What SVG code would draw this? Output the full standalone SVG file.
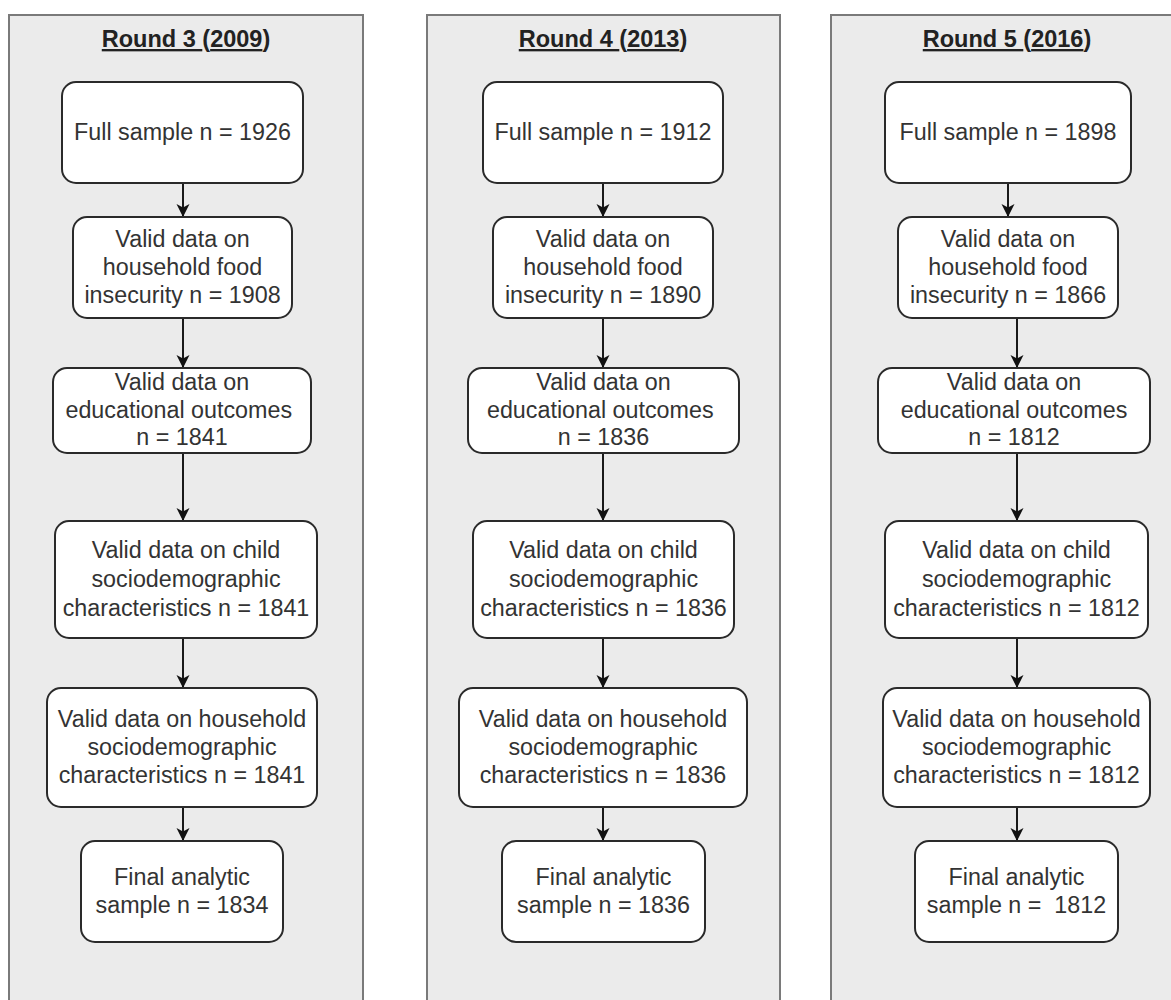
<svg xmlns="http://www.w3.org/2000/svg" width="1171" height="1000" viewBox="0 0 1171 1000">
<defs>
<marker id="ah" markerWidth="14" markerHeight="14" refX="13" refY="7" orient="auto" markerUnits="userSpaceOnUse">
<path d="M0,0.5 L13,7 L0,13.5 L3.5,7 Z" fill="#111"/>
</marker>
<style>
.panel{fill:#ebebeb;stroke:#7a7a7a;stroke-width:2}
.node{fill:#fff;stroke:#2a2a2a;stroke-width:2}
.t{font-family:"Liberation Sans",Arial,sans-serif;font-size:23.3px;fill:#333;text-anchor:middle;white-space:pre}
.title{font-family:"Liberation Sans",Arial,sans-serif;font-size:23.5px;font-weight:bold;fill:#222;text-anchor:middle}
.u{text-decoration:underline}
.conn line{stroke:#1a1a1a;stroke-width:2;marker-end:url(#ah)}
</style>
</defs>
<g id="panel-r3">
<rect class="panel" x="9" y="15" width="354" height="1000"/>
<text class="title" x="186" y="47"><tspan class="u">Round 3 </tspan>(<tspan class="u">2009</tspan>)</text>
</g>
<g id="panel-r4">
<rect class="panel" x="427" y="15" width="353" height="1000"/>
<text class="title" x="603" y="47"><tspan class="u">Round 4 </tspan>(<tspan class="u">2013</tspan>)</text>
</g>
<g id="panel-r5">
<rect class="panel" x="831" y="15" width="353" height="1000"/>
<text class="title" x="1007" y="47"><tspan class="u">Round 5 </tspan>(<tspan class="u">2016</tspan>)</text>
</g>

<g class="conn" id="connectors">
<line x1="183" y1="183" x2="183" y2="217"/>
<line x1="183" y1="318" x2="183" y2="368"/>
<line x1="183" y1="453" x2="183" y2="521"/>
<line x1="183" y1="638" x2="183" y2="688"/>
<line x1="183" y1="807" x2="183" y2="841"/>
<line x1="603" y1="183" x2="603" y2="217"/>
<line x1="603" y1="318" x2="603" y2="368"/>
<line x1="603" y1="453" x2="603" y2="521"/>
<line x1="603" y1="638" x2="603" y2="688"/>
<line x1="603" y1="807" x2="603" y2="841"/>
<line x1="1008" y1="183" x2="1008" y2="217"/>
<line x1="1017" y1="318" x2="1017" y2="368"/>
<line x1="1017" y1="453" x2="1017" y2="521"/>
<line x1="1017" y1="638" x2="1017" y2="688"/>
<line x1="1017" y1="807" x2="1017" y2="841"/>
</g>

<g id="r3-full"><rect class="node" x="62" y="82" width="241" height="101" rx="14"/><text class="t" x="182.5" y="140">Full sample n = 1926</text></g>
<g id="r3-food"><rect class="node" x="73" y="217" width="219" height="101" rx="14"/><text class="t" x="182.5" y="247">Valid data on</text><text class="t" x="182.5" y="275">household food</text><text class="t" x="182.5" y="303">insecurity n = 1908</text></g>
<g id="r3-edu"><rect class="node" x="53" y="368" width="258" height="85" rx="14"/><text class="t" x="182" y="390">Valid data on</text><text class="t" x="182" y="418">educational outcomes </text><text class="t" x="182" y="445">n = 1841</text></g>
<g id="r3-child"><rect class="node" x="55" y="521" width="262" height="117" rx="14"/><text class="t" x="186" y="558">Valid data on child</text><text class="t" x="186" y="587">sociodemographic</text><text class="t" x="186" y="616">characteristics n = 1841</text></g>
<g id="r3-hh"><rect class="node" x="47" y="688" width="270" height="119" rx="14"/><text class="t" x="182" y="727">Valid data on household</text><text class="t" x="182" y="755">sociodemographic</text><text class="t" x="182" y="783">characteristics n = 1841</text></g>
<g id="r3-final"><rect class="node" x="81" y="841" width="202" height="101" rx="14"/><text class="t" x="182" y="885">Final analytic</text><text class="t" x="182" y="913">sample n = 1834</text></g>

<g id="r4-full"><rect class="node" x="483" y="82" width="240" height="101" rx="14"/><text class="t" x="603" y="140">Full sample n = 1912</text></g>
<g id="r4-food"><rect class="node" x="493" y="217" width="220" height="101" rx="14"/><text class="t" x="603" y="247">Valid data on</text><text class="t" x="603" y="275">household food</text><text class="t" x="603" y="303">insecurity n = 1890</text></g>
<g id="r4-edu"><rect class="node" x="468" y="368" width="271" height="85" rx="14"/><text class="t" x="603.5" y="390">Valid data on</text><text class="t" x="603.5" y="418">educational outcomes </text><text class="t" x="603.5" y="445">n = 1836</text></g>
<g id="r4-child"><rect class="node" x="473" y="521" width="261" height="117" rx="14"/><text class="t" x="603.5" y="558">Valid data on child</text><text class="t" x="603.5" y="587">sociodemographic</text><text class="t" x="603.5" y="616">characteristics n = 1836</text></g>
<g id="r4-hh"><rect class="node" x="459" y="688" width="288" height="119" rx="14"/><text class="t" x="603" y="727">Valid data on household</text><text class="t" x="603" y="755">sociodemographic</text><text class="t" x="603" y="783">characteristics n = 1836</text></g>
<g id="r4-final"><rect class="node" x="502" y="841" width="203" height="101" rx="14"/><text class="t" x="603.5" y="885">Final analytic</text><text class="t" x="603.5" y="913">sample n = 1836</text></g>

<g id="r5-full"><rect class="node" x="885" y="82" width="246" height="101" rx="14"/><text class="t" x="1008" y="140">Full sample n = 1898</text></g>
<g id="r5-food"><rect class="node" x="898" y="217" width="220" height="101" rx="14"/><text class="t" x="1008" y="247">Valid data on</text><text class="t" x="1008" y="275">household food</text><text class="t" x="1008" y="303">insecurity n = 1866</text></g>
<g id="r5-edu"><rect class="node" x="878" y="368" width="272" height="85" rx="14"/><text class="t" x="1014" y="390">Valid data on</text><text class="t" x="1014" y="418">educational outcomes</text><text class="t" x="1014" y="445">n = 1812</text></g>
<g id="r5-child"><rect class="node" x="885" y="521" width="263" height="117" rx="14"/><text class="t" x="1016.5" y="558">Valid data on child</text><text class="t" x="1016.5" y="587">sociodemographic</text><text class="t" x="1016.5" y="616">characteristics n = 1812</text></g>
<g id="r5-hh"><rect class="node" x="883" y="688" width="267" height="119" rx="14"/><text class="t" x="1016.5" y="727">Valid data on household</text><text class="t" x="1016.5" y="755">sociodemographic</text><text class="t" x="1016.5" y="783">characteristics n = 1812</text></g>
<g id="r5-final"><rect class="node" x="915" y="841" width="203" height="101" rx="14"/><text class="t" x="1016.5" y="885">Final analytic</text><text class="t" x="1016.5" y="913">sample n =  1812</text></g>
</svg>
